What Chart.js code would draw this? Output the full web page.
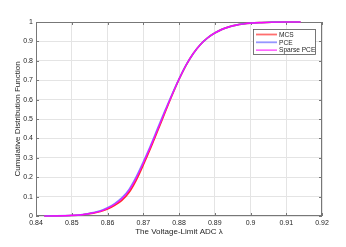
<!DOCTYPE html>
<html>
<head>
<meta charset="utf-8">
<script src="https://cdn.jsdelivr.net/npm/chart.js@4/dist/chart.umd.min.js"></script>
<style>
  html, body { margin: 0; padding: 0; background: #fff; }
  canvas { display: block; }
</style>
</head>
<body>
<canvas id="cdf_chart" width="346" height="247"></canvas>
<script>
// lambda values where the curves were read, and the CDF of each curve there
const lambdaX = [0.8423, 0.845, 0.85, 0.853, 0.856, 0.858, 0.86, 0.862, 0.864, 0.866, 0.868, 0.870,
                 0.872, 0.874, 0.876, 0.878, 0.880, 0.882, 0.884, 0.886, 0.888, 0.890, 0.892,
                 0.894, 0.896, 0.898, 0.900, 0.903, 0.906, 0.910, 0.914];
const mcsCdf    = [0, 0.0004, 0.0027, 0.0065, 0.0145, 0.023, 0.036, 0.055, 0.081, 0.121, 0.184, 0.263,
                   0.348, 0.438, 0.530, 0.620, 0.704, 0.778, 0.838, 0.884, 0.918, 0.943, 0.962,
                   0.975, 0.984, 0.990, 0.994, 0.997, 0.999, 1, 1];
const pceCdf    = [0, 0.0006, 0.0033, 0.0075, 0.0175, 0.027, 0.043, 0.064, 0.093, 0.136, 0.200, 0.278,
                   0.361, 0.450, 0.539, 0.625, 0.706, 0.779, 0.838, 0.884, 0.918, 0.943, 0.962,
                   0.975, 0.984, 0.990, 0.994, 0.997, 0.999, 1, 1];
const sparseCdf = [0, 0.0005, 0.003, 0.007, 0.016, 0.025, 0.040, 0.060, 0.088, 0.130, 0.193, 0.272,
                   0.356, 0.445, 0.535, 0.622, 0.705, 0.778, 0.838, 0.884, 0.918, 0.943, 0.962,
                   0.975, 0.984, 0.990, 0.994, 0.997, 0.999, 1, 1];

const seriesNames = ['MCS', 'PCE', 'Sparse PCE'];
const xTicks = [0.84, 0.85, 0.86, 0.87, 0.88, 0.89, 0.9, 0.91, 0.92];
const yTicks = [0, 0.1, 0.2, 0.3, 0.4, 0.5, 0.6, 0.7, 0.8, 0.9, 1];

const toPoints = ys => lambdaX.map((x, i) => ({ x: x, y: ys[i] }));

const axisColor = '#777777';
const textColor = '#262626';
const fontFamily = '"Liberation Sans", Arial, sans-serif';

// box round the plot, inward tick marks and the legend inside the axes
const matlabAxes = {
    id: 'matlabAxes',
    beforeDatasetsDraw(chart) {
        const ctx = chart.ctx;
        const a = chart.chartArea;
        const xs = chart.scales.x, ys = chart.scales.y;
        ctx.save();
        ctx.strokeStyle = axisColor;
        ctx.lineWidth = 1;
        ctx.strokeRect(a.left + 0.5, a.top + 0.5, a.right - a.left - 1, a.bottom - a.top - 1);
        ctx.beginPath();
        xTicks.forEach(v => {
            const px = Math.round(xs.getPixelForValue(v)) + 0.5;
            ctx.moveTo(px, a.bottom); ctx.lineTo(px, a.bottom - 3);
            ctx.moveTo(px, a.top); ctx.lineTo(px, a.top + 3);
        });
        yTicks.forEach(v => {
            const py = Math.round(ys.getPixelForValue(v)) + 0.5;
            ctx.moveTo(a.left, py); ctx.lineTo(a.left + 3, py);
            ctx.moveTo(a.right, py); ctx.lineTo(a.right - 3, py);
        });
        ctx.stroke();
        ctx.restore();
    },
    afterDatasetsDraw(chart) {
        const ctx = chart.ctx;
        ctx.save();
        const bx = 253, by = 29, bw = 62, bh = 25;
        ctx.fillStyle = '#ffffff';
        ctx.fillRect(bx, by, bw, bh);
        ctx.strokeStyle = '#555555';
        ctx.lineWidth = 0.8;
        ctx.strokeRect(bx + 0.5, by + 0.5, bw, bh);
        ctx.font = '6.6px ' + fontFamily;
        ctx.textBaseline = 'middle';
        ctx.textAlign = 'left';
        chart.data.datasets.forEach((ds, i) => {
            const ly = by + 5.5 + i * 7.8;
            ctx.strokeStyle = ds.legendColor;
            ctx.lineWidth = ds.legendWidth;
            ctx.beginPath();
            ctx.moveTo(bx + 3, ly); ctx.lineTo(bx + 24, ly);
            ctx.stroke();
            ctx.fillStyle = textColor;
            ctx.fillText(ds.label, bx + 26, ly + 0.5);
        });
        ctx.restore();
    }
};

const ctx = document.getElementById('cdf_chart').getContext('2d');

new Chart(ctx, {
    type: 'line',
    data: {
        datasets: [{
            label: seriesNames[0],
            data: toPoints(mcsCdf),
            borderColor: 'rgb(255, 45, 45)',
            legendColor: 'rgb(255, 110, 110)',
            legendWidth: 1.8,
            borderWidth: 1.7,
            order: 3
        }, {
            label: seriesNames[1],
            data: toPoints(pceCdf),
            borderColor: 'rgba(115, 115, 255, 0.9)',
            legendColor: 'rgb(150, 150, 255)',
            legendWidth: 1.8,
            borderWidth: 1.7,
            order: 2
        }, {
            label: seriesNames[2],
            data: toPoints(sparseCdf),
            borderColor: 'rgb(255, 0, 255)',
            legendColor: 'rgb(255, 0, 255)',
            legendWidth: 1,
            borderWidth: 1.1,
            order: 1
        }]
    },
    options: {
        responsive: false,
        animation: false,
        devicePixelRatio: 1,
        layout: { padding: { top: 22, right: 24, left: 0, bottom: 0 } },
        elements: {
            point: { radius: 0 },
            line: { cubicInterpolationMode: 'monotone', fill: false }
        },
        datasets: { line: { clip: 4 } },
        scales: {
            x: {
                type: 'linear',
                min: 0.84,
                max: 0.92,
                afterBuildTicks: s => { s.ticks = xTicks.map(v => ({ value: v })); },
                afterFit: s => { s.height = 31; },
                ticks: {
                    color: textColor,
                    font: { family: fontFamily, size: 7 },
                    padding: 3,
                    maxRotation: 0,
                    autoSkip: false,
                    callback: v => String(parseFloat(v.toFixed(2)))
                },
                grid: { color: '#e4e4e4', drawTicks: false },
                border: { display: false },
                title: {
                    display: true,
                    text: 'The Voltage-Limit ADC λ',
                    color: textColor,
                    font: { family: fontFamily, size: 8 },
                    padding: { top: 0, bottom: 10 }
                }
            },
            y: {
                type: 'linear',
                min: 0,
                max: 1,
                afterBuildTicks: s => { s.ticks = yTicks.map(v => ({ value: v })); },
                afterFit: s => { s.width = 36; },
                ticks: {
                    color: textColor,
                    font: { family: fontFamily, size: 7 },
                    padding: 3,
                    autoSkip: false,
                    callback: v => String(parseFloat(v.toFixed(1)))
                },
                grid: { color: '#e4e4e4', drawTicks: false },
                border: { display: false },
                title: {
                    display: true,
                    text: 'Cumulative Distribution Function',
                    color: textColor,
                    font: { family: fontFamily, size: 8 },
                    padding: { top: 13, bottom: 0 }
                }
            }
        },
        plugins: {
            legend: { display: false },
            tooltip: { enabled: false }
        }
    },
    plugins: [matlabAxes]
});
</script>
</body>
</html>
